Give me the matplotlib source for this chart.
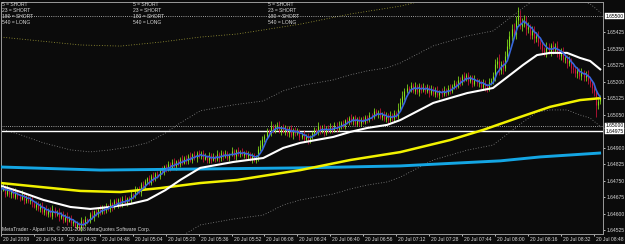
import numpy as np
import pandas as pd
import matplotlib
matplotlib.use("Agg")
import matplotlib.pyplot as plt
from matplotlib import font_manager, transforms

# ---------------- data (prices in points of 0.00001 above 1.64000) ----------------
closes_pts = [
    708, 725, 690, 712, 688, 705, 676, 695, 680, 668, 690, 660, 675, 655, 668, 648, 630, 645, 620, 640,
    605, 622, 600, 618, 590, 622, 596, 605, 582, 600, 570, 590, 568, 580, 556, 566, 540, 552, 534, 565,
    550, 575, 568, 598, 582, 610, 600, 622, 605, 630, 615, 636, 620, 648, 630, 655, 640, 665, 640, 668,
    650, 670, 660, 690, 678, 705, 712, 700, 735, 722, 748, 760, 740, 772, 758, 782, 770, 800, 788, 815,
    805, 825, 808, 835, 818, 838, 826, 850, 832, 855, 840, 862, 845, 872, 855, 875, 860, 878, 850, 862,
    842, 868, 845, 860, 848, 870, 852, 878, 860, 875, 855, 870, 885, 862, 888, 870, 882, 868, 880, 860,
    872, 850, 866, 845, 860, 895, 912, 940, 952, 975, 968, 1000, 978, 995, 1005, 975, 995, 972, 988, 965,
    990, 960, 982, 965, 975, 950, 962, 940, 955, 935, 950, 965, 980, 972, 998, 975, 992, 968, 990, 978,
    995, 980, 1005, 985, 1000, 1012, 1000, 1025, 1015, 1035, 1020, 1038, 1010, 1030, 1012, 1030, 1018, 1040, 1028, 1050,
    1038, 1065, 1055, 1062, 1040, 1055, 1030, 1048, 1028, 1050, 1035, 1058, 1045, 1078, 1110, 1135, 1158, 1170, 1165, 1185,
    1160, 1180, 1155, 1182, 1162, 1175, 1160, 1175, 1150, 1168, 1145, 1165, 1142, 1158, 1145, 1165, 1150, 1172, 1160, 1180,
    1195, 1182, 1210, 1198, 1225, 1215, 1230, 1205, 1220, 1192, 1210, 1195, 1200, 1178, 1195, 1182, 1168, 1198, 1205, 1225,
    1280, 1295, 1255, 1280, 1262, 1320, 1365, 1410, 1440, 1420, 1480, 1500, 1455, 1470, 1480, 1440, 1450, 1415, 1435, 1400,
    1410, 1380, 1372, 1345, 1335, 1360, 1340, 1368, 1345, 1362, 1335, 1320, 1338, 1305, 1310, 1285, 1298, 1262, 1258, 1240,
    1250, 1228, 1245, 1222, 1235, 1210, 1195, 1172, 1155, 1095, 1112, 1128,
]
opens_pts = [
    700, 708, 725, 690, 712, 688, 705, 676, 695, 680, 668, 690, 660, 675, 655, 668, 648, 630, 645, 620,
    640, 605, 622, 600, 618, 590, 622, 596, 605, 582, 600, 570, 590, 568, 580, 556, 566, 540, 552, 534,
    565, 550, 575, 568, 598, 582, 610, 600, 622, 605, 630, 615, 636, 620, 648, 630, 655, 640, 665, 640,
    668, 650, 670, 660, 690, 678, 705, 712, 700, 735, 722, 748, 760, 740, 772, 758, 782, 770, 800, 788,
    815, 805, 825, 808, 835, 818, 838, 826, 850, 832, 855, 840, 862, 845, 872, 855, 875, 860, 878, 850,
    862, 842, 868, 845, 860, 848, 870, 852, 878, 860, 875, 855, 870, 885, 862, 888, 870, 882, 868, 880,
    860, 872, 850, 866, 845, 860, 895, 912, 940, 952, 975, 968, 1000, 978, 995, 1005, 975, 995, 972, 988,
    965, 990, 960, 982, 965, 975, 950, 962, 940, 955, 935, 950, 965, 980, 972, 998, 975, 992, 968, 990,
    978, 995, 980, 1005, 985, 1000, 1012, 1000, 1025, 1015, 1035, 1020, 1038, 1010, 1030, 1012, 1030, 1018, 1040, 1028,
    1050, 1038, 1065, 1055, 1062, 1040, 1055, 1030, 1048, 1028, 1050, 1035, 1058, 1045, 1078, 1110, 1135, 1158, 1170, 1165,
    1185, 1160, 1180, 1155, 1182, 1162, 1175, 1160, 1175, 1150, 1168, 1145, 1165, 1142, 1158, 1145, 1165, 1150, 1172, 1160,
    1180, 1195, 1182, 1210, 1198, 1225, 1215, 1230, 1205, 1220, 1192, 1210, 1195, 1200, 1178, 1195, 1182, 1168, 1198, 1205,
    1225, 1280, 1295, 1255, 1280, 1262, 1320, 1365, 1410, 1440, 1420, 1480, 1500, 1455, 1470, 1480, 1440, 1450, 1415, 1435,
    1400, 1410, 1380, 1372, 1345, 1335, 1360, 1340, 1368, 1345, 1362, 1335, 1320, 1338, 1305, 1310, 1285, 1298, 1262, 1258,
    1240, 1250, 1228, 1245, 1222, 1235, 1210, 1195, 1172, 1155, 1095, 1112,
]
upper_wick_pts = [
    8, 14, 6, 18, 10, 5, 12, 20, 7, 11, 15, 6, 9, 16, 8, 12, 5, 14, 10, 7,
    13, 9, 18, 6, 11, 15, 8, 10, 20, 5, 12, 9, 16, 7, 14, 10, 6, 12, 8, 17,
    9, 14, 6, 11, 19, 8, 12, 5, 15, 10, 7, 13, 9, 18, 6, 11, 14, 8, 12, 10,
    16, 7, 10, 13, 5, 20, 9, 12, 8, 15, 11, 6, 14, 10, 18, 7, 12, 9, 16, 5,
    10, 14, 8, 12, 20, 6, 11, 9, 15, 7, 13, 10, 18, 5, 12, 9, 14, 8, 11, 16,
    6, 12, 10, 15, 8, 20, 9, 11, 7, 14, 12, 5, 16, 10, 8, 13, 9, 18, 6, 11,
    14, 8, 12, 10, 7, 15, 22, 12, 9, 16, 11, 20, 8, 13, 10, 18, 6, 12, 15, 9,
    11, 14, 7, 12, 16, 9, 10, 20, 8, 13, 6, 12, 15, 10, 18, 7, 11, 14, 9, 12,
    16, 8, 10, 13, 20, 9, 12, 7, 15, 11, 18, 6, 12, 10, 14, 8, 16, 9, 11, 13,
    7, 15, 10, 12, 20, 8, 11, 14, 9, 16, 6, 12, 10, 25, 18, 22, 14, 20, 12, 16,
    10, 18, 12, 15, 8, 20, 11, 14, 9, 16, 12, 10, 18, 7, 13, 15, 9, 12, 20, 10,
    14, 8, 16, 12, 10, 18, 9, 15, 12, 11, 20, 8, 14, 10, 16, 12, 9, 18, 14, 20,
    25, 18, 30, 15, 20, 22, 28, 20, 25, 30, 22, 41, 28, 20, 25, 18, 22, 15, 20, 18,
    16, 22, 14, 18, 12, 20, 15, 10, 18, 14, 22, 12, 16, 20, 10, 14, 18, 12, 15, 10,
    16, 12, 20, 10, 14, 18, 12, 15, 20, 10, 14, 12,
]
lower_wick_pts = [
    10, 6, 15, 8, 12, 18, 7, 11, 14, 9, 5, 16, 10, 8, 13, 20, 6, 12, 9, 15,
    7, 12, 10, 18, 8, 14, 11, 6, 16, 9, 13, 10, 20, 7, 12, 15, 8, 11, 10, 14,
    12, 8, 16, 10, 6, 14, 9, 18, 11, 7, 15, 12, 8, 13, 20, 10, 6, 14, 9, 12,
    11, 16, 8, 12, 10, 7, 15, 9, 18, 6, 12, 14, 10, 8, 16, 11, 9, 13, 7, 12,
    15, 9, 12, 6, 10, 18, 8, 14, 11, 7, 16, 12, 9, 13, 10, 20, 6, 12, 15, 8,
    12, 10, 16, 7, 13, 9, 18, 11, 14, 6, 10, 15, 8, 12, 20, 9, 11, 7, 14, 10,
    16, 12, 18, 9, 14, 20, 10, 12, 15, 11, 8, 16, 12, 9, 14, 10, 18, 7, 12, 11,
    15, 9, 20, 12, 8, 14, 11, 16, 10, 18, 12, 9, 13, 7, 15, 11, 10, 14, 8, 12,
    10, 15, 9, 12, 8, 16, 11, 14, 7, 12, 10, 18, 9, 13, 15, 11, 8, 12, 16, 10,
    14, 9, 12, 18, 10, 15, 8, 12, 20, 11, 13, 16, 10, 12, 8, 14, 18, 11, 15, 9,
    12, 16, 10, 20, 13, 9, 15, 11, 18, 12, 8, 14, 10, 22, 12, 9, 16, 11, 14, 10,
    12, 15, 9, 18, 11, 14, 10, 20, 12, 16, 9, 13, 18, 11, 15, 22, 12, 10, 14, 16,
    20, 15, 22, 18, 25, 14, 20, 16, 22, 18, 24, 20, 15, 22, 18, 25, 16, 20, 18, 22,
    20, 15, 24, 18, 16, 22, 14, 20, 18, 12, 22, 16, 20, 14, 18, 22, 15, 20, 16, 18,
    22, 14, 18, 20, 16, 22, 18, 25, 20, 55, 18, 14,
]

# moving averages (minute index, points)
white_min = [0, 9.7, 20.6, 33.7, 43.4, 53.2, 62.9, 71.1, 79.9, 87.1, 96.8, 112.9, 127.4, 137.1,
             145.4, 161.4, 169.7, 178, 187.6, 194, 210, 226.5, 239, 246, 253.6, 260.4, 266.7,
             275, 281.3, 286.2, 291.5]
white_pts = [726, 698, 662, 630, 621, 630, 644, 662, 707, 753, 808, 835, 853, 899,
             922, 949, 972, 990, 1004, 1026, 1104, 1149, 1172, 1222, 1277, 1322, 1332,
             1332, 1309, 1295, 1254]
yellow_min = [0, 19.2, 38.6, 58, 77.4, 96.8, 114.8, 145.4, 169.7, 194, 218.2, 234.2, 250.7,
              266.7, 281.3, 291.5]
yellow_pts = [739, 721, 703, 698, 716, 739, 753, 798, 844, 880, 935, 981, 1035,
              1086, 1117, 1126]
cyan_min = [0, 48.3, 96.8, 145.4, 194, 242.5, 262, 291.5]
cyan_pts = [812, 798, 803, 808, 817, 840, 858, 876]

white_envelope_pts = 260
yellow_envelope_pts = 665

level_dotted = [1.65500, 1.65000]
level_solid = 1.64975

price_ticks = [1.64525, 1.64600, 1.64675, 1.64750, 1.64825, 1.64900,
               1.65050, 1.65125, 1.65200, 1.65275, 1.65350, 1.65425]
time_minutes = [0, 16, 32, 48, 64, 80, 96, 112, 128, 144, 160, 176, 192, 208, 224, 240, 256, 272, 288]
time_labels = ["20 Jul 2009", "20 Jul 04:16", "20 Jul 04:32", "20 Jul 04:48", "20 Jul 05:04",
               "20 Jul 05:20", "20 Jul 05:36", "20 Jul 05:52", "20 Jul 06:08", "20 Jul 06:24",
               "20 Jul 06:40", "20 Jul 06:56", "20 Jul 07:12", "20 Jul 07:28", "20 Jul 07:44",
               "20 Jul 08:00", "20 Jul 08:16", "20 Jul 08:32", "20 Jul 08:48"]
legend_lines = ["5 = SHORT", "23 = SHORT", "180 = SHORT", "540 = LONG"]
copyright_text = "MetaTrader - Alpari UK, \u00a9 2001-2008 MetaQuotes Software Corp."

# ---------------- helpers ----------------
BASE_PRICE = 1.64
POINT = 0.00001


def to_price(pts):
    return BASE_PRICE + np.asarray(pts, dtype=float) * POINT


o = to_price(opens_pts)
c = to_price(closes_pts)
h = np.maximum(o, c) + np.asarray(upper_wick_pts) * POINT
lo = np.minimum(o, c) - np.asarray(lower_wick_pts) * POINT
x = np.arange(len(c))

avail = {f.name for f in font_manager.fontManager.ttflist}
if 'Liberation Sans Narrow' in avail:
    FONT, FS = 'Liberation Sans Narrow', 4.3
elif 'Liberation Sans' in avail:
    FONT, FS = 'Liberation Sans', 3.6
else:
    FONT, FS = 'DejaVu Sans', 3.3
plt.rcParams['font.family'] = [FONT, 'DejaVu Sans']

BG = '#0b0b0b'
FG = '#d8d8d8'
GREEN = '#86e21a'
RED = '#d0143c'

W, H = 625, 244
fig = plt.figure(figsize=(W / 100, H / 100), dpi=100, facecolor=BG)
ax = fig.add_axes([1 / W, 10 / H, 602 / W, 232 / H], facecolor=BG)
ax.set_xlim(0.25, 292.45)
ax.set_ylim(1.645068, 1.655638)

# envelopes (dotted)
dot = (0, (1, 2.2))
wp = np.asarray(white_pts)
ax.plot(white_min, to_price(wp + white_envelope_pts), color='#8c8c8c', lw=0.6, ls=dot, zorder=1)
ax.plot(white_min, to_price(wp - white_envelope_pts), color='#8c8c8c', lw=0.6, ls=dot, zorder=1)
ax.plot(yellow_min, to_price(np.asarray(yellow_pts) + yellow_envelope_pts), color='#a8a43a',
        lw=0.6, ls=dot, zorder=1)

# horizontal levels
for lv in level_dotted:
    ax.axhline(lv, color='#cfcfcf', lw=0.6, ls=(0, (1, 1.6)), zorder=1)
ax.axhline(level_solid, color='white', lw=1.0, zorder=1)

# candles
up = c >= o
dn = ~up
ax.vlines(x[up], lo[up], h[up], color=GREEN, lw=0.55, zorder=2)
ax.vlines(x[up], o[up], c[up], color=GREEN, lw=0.8, zorder=2)
ax.vlines(x[dn], lo[dn], h[dn], color=RED, lw=0.55, zorder=2)
ax.vlines(x[dn], c[dn], o[dn], color=RED, lw=0.8, zorder=2)

# moving averages
ax.plot(cyan_min, to_price(cyan_pts), color='#14a6e4', lw=2.1, zorder=3, solid_capstyle='butt')
ax.plot(yellow_min, to_price(yellow_pts), color='#f2f200', lw=1.8, zorder=3, solid_capstyle='butt')
ax.plot(white_min, to_price(white_pts), color='white', lw=1.5, zorder=4, solid_capstyle='butt')
sma5 = pd.Series(c).rolling(5, min_periods=1).mean()
ax.plot(x, sma5, color='#3766dc', lw=1.2, zorder=5)

# axes styling
for s in ax.spines.values():
    s.set_color('#9a9a9a')
    s.set_linewidth(0.7)
ax.yaxis.tick_right()
ax.set_yticks(price_ticks)
ax.set_yticklabels([f"{p:.5f}" for p in price_ticks])
ax.tick_params(axis='y', colors=FG, labelsize=FS, length=1.5, width=0.6, pad=0.8)
ax.set_xticks(time_minutes)
ax.set_xticklabels(time_labels, ha='left')
ax.tick_params(axis='x', colors=FG, labelsize=FS, length=1.5, width=0.6, pad=0.8)
offset = transforms.ScaledTranslation(2 / 100, 0, fig.dpi_scale_trans)
for lab in ax.get_xticklabels():
    lab.set_transform(lab.get_transform() + offset)

# level price boxes on the right
for lv in [1.65500, 1.65000, 1.64975]:
    ax.annotate(f"{lv:.5f}", xy=(1, lv), xycoords=('axes fraction', 'data'),
                xytext=(1.6, 0), textcoords='offset points', ha='left', va='center',
                fontsize=FS, color='black',
                bbox=dict(boxstyle='square,pad=0.08', fc='white', ec='white', lw=0.3))

# indicator labels, top-left (three copies)
for col_x in [2, 133, 268]:
    for i, t in enumerate(legend_lines):
        fig.text(col_x / W, 1 - (5 + 6 * i) / H, t, color=FG, fontsize=FS, ha='left', va='center')

fig.text(2 / W, 1 - 229 / H, copyright_text, color=FG, fontsize=FS, ha='left', va='center')

fig.savefig('out.png', dpi=100, facecolor=BG)
